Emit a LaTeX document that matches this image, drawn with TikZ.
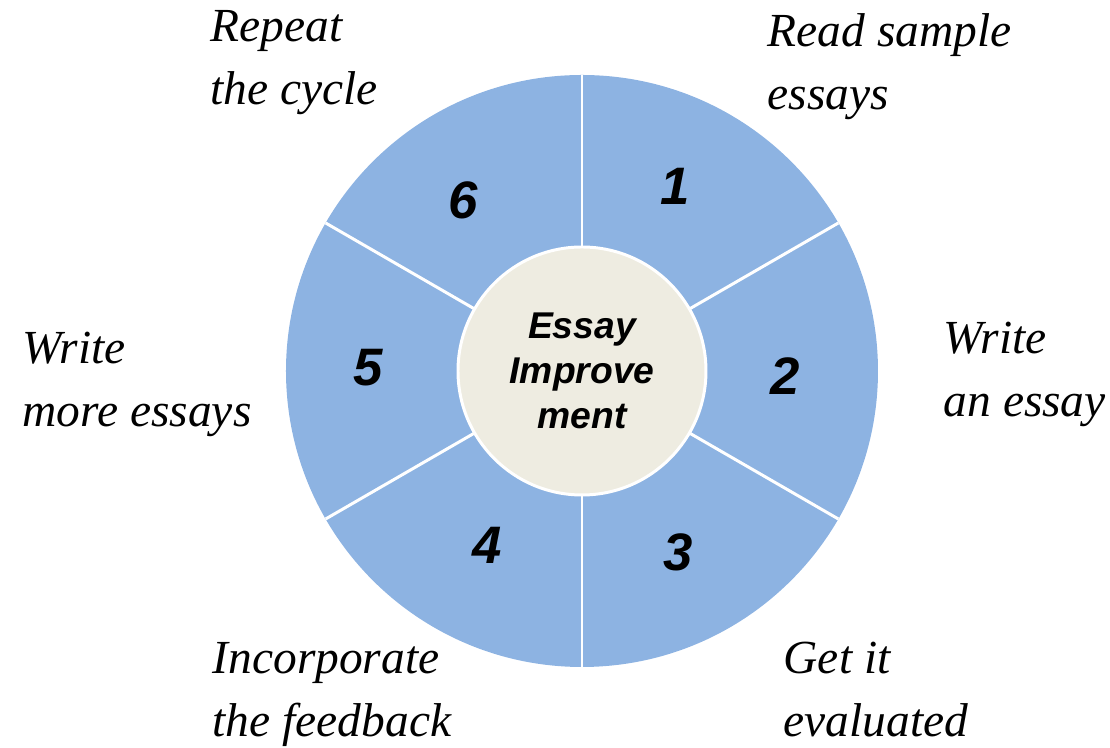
\documentclass[tikz,border=0pt]{standalone}
\usepackage{fontspec}
\setmainfont{Liberation Serif}
\setsansfont{Liberation Sans}
\definecolor{ringblue}{HTML}{8DB3E2}
\definecolor{hubgrey}{HTML}{EEECE1}

\begin{document}
\begin{tikzpicture}[
	steptext/.style={anchor=base west, align=left, inner sep=0pt, font=\fontsize{13.5}{18}\selectfont\itshape},
	stepnum/.style={font=\fontsize{15}{18}\selectfont\sffamily\bfseries\itshape},
	spoke/.style={white, line width=0.85pt}
	]
	\useasboundingbox (-5.82,-3.77) rectangle (5.28,3.71);

	% Ring with six sectors
	\fill[ringblue] (0,0) circle (2.96);
	\foreach \a in {30,90,150,210,270,330}
		\draw[spoke] (\a:1.24) -- (\a:2.96);

	% Hub
	\node[circle, draw=white, line width=0.85pt, fill=hubgrey, minimum size=2.48cm, inner sep=0pt,
		align=center, font=\fontsize{10.6}{12.8}\selectfont\sffamily\bfseries\itshape] (hub) at (0,0) {Essay\\Improve\\ment};

	% Step numbers
	\node[stepnum] (n1) at (0.93, 1.85) {1};
	\node[stepnum] (n2) at (2.03, -0.05) {2};
	\node[stepnum] (n3) at (0.96, -1.81) {3};
	\node[stepnum] (n4) at (-0.95, -1.74) {4};
	\node[stepnum] (n5) at (-2.14, 0.03) {5};
	\node[stepnum] (n6) at (-1.19, 1.71) {6};

	% Step descriptions (anchored at the baseline of the last line)
	\node[steptext] (s1) at (1.85, 2.61) {Read sample\\essays};
	\node[steptext] (s2) at (3.61, -0.46) {Write\\an essay};
	\node[steptext] (s3) at (2.01, -3.66) {Get it\\evaluated};
	\node[steptext] (s4) at (-3.70, -3.66) {Incorporate\\the feedback};
	\node[steptext] (s5) at (-5.60, -0.56) {Write\\more essays};
	\node[steptext] (s6) at (-3.72, 2.66) {Repeat\\the cycle};
\end{tikzpicture}
\end{document}
